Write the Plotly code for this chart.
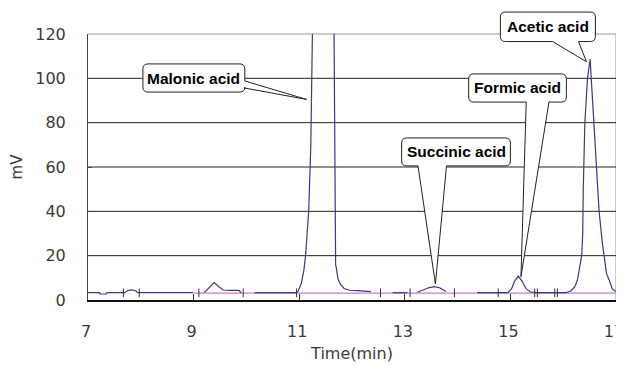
import plotly.graph_objects as go

# ---- data ----
signal_x = [7.00, 7.22, 7.23, 7.35, 7.36, 7.70, 7.75, 7.82, 7.89, 7.95, 8.99, None,
            9.20, 9.30, 9.39, 9.48, 9.56, 9.70, 9.86, 9.90, None,
            10.16, 10.95, 10.98, 11.04, 11.09, 11.12, 11.18, 11.22, 11.25, 11.27, 11.46,
            11.66, 11.67, 11.68, 11.69, 11.71, 11.73, 11.76, 11.79, 11.85, 11.95, 12.10, 12.36, None,
            12.77, 13.05, None,
            13.24, 13.35, 13.45, 13.56, 13.67, 13.78, None,
            14.37, 14.95, 15.02, 15.08, 15.15, 15.22, 15.30, 15.38, 15.50, 16.05,
            16.15, 16.22, 16.27, 16.31, 16.35, 16.37, 16.38, 16.41, 16.46, 16.51,
            16.53, 16.58, 16.63, 16.68, 16.74, 16.77, 16.82, 16.87, 16.93, 17.00]
signal_y = [3.3, 3.3, 2.7, 2.7, 3.3, 3.3, 4.3, 4.6, 4.3, 3.3, 3.3, None,
            3.3, 5.5, 7.9, 6.0, 4.5, 4.3, 4.3, 3.4, None,
            3.3, 3.3, 4.0, 7.5, 13.6, 20, 40, 70, 120, 150, 600,
            120, 60, 20, 16, 13.6, 10, 8, 6.8, 5.2, 4.4, 4.2, 3.8, None,
            3.3, 3.3, None,
            3.5, 4.6, 5.5, 6.0, 5.4, 3.8, None,
            3.3, 3.3, 5.0, 8.5, 10.8, 8.5, 5.0, 3.6, 3.3, 3.3,
            4.2, 6.0, 9.0, 14.0, 20, 30, 50, 80, 100, 108.6,
            100, 80, 60, 40, 26, 20, 12, 9, 5, 3.8]

baseline_x = [9.0, 17.0]
baseline_y = [3.1, 3.1]

marker_x = [7.67, 7.97, 9.10, 9.94, 10.95, 12.54, 13.10, 13.94,
            14.77, 15.46, 15.51, 15.84, 15.89]
marker_low, marker_high = 1.3, 5.2

x_ticks = [7, 9, 11, 13, 15, 17]
y_ticks = [0, 20, 40, 60, 80, 100, 120]
grid_y = [20, 40, 60, 80, 100]

labels = ["Malonic acid", "Acetic acid", "Formic acid", "Succinic acid"]
box_x0 = [8.04, 14.81, 14.21, 12.94]
box_x1 = [9.97, 16.61, 16.06, 15.00]
box_y0 = [93.8, 116.6, 89.3, 60.5]
box_y1 = [106.5, 129.9, 102.0, 73.1]
tip_x = [11.14, 16.44, 15.20, 13.58]
tip_y = [90.5, 107.5, 10.5, 7.2]
edge = ["right", "bottom", "bottom", "bottom"]
base_a = [98.8, 15.80, 15.30, 13.25]   # first wedge-base coordinate along edge
base_b = [95.6, 16.29, 15.73, 13.79]   # second wedge-base coordinate along edge

XR = (7, 17)
YR = (0, 120)
PW, PH = 528, 266


def px(x):
    return (x - XR[0]) / (XR[1] - XR[0])


def py(y):
    return (y - YR[0]) / (YR[1] - YR[0])


def callout_path(i):
    rx, ry = 5 / PW, 5 / PH
    x0, x1 = px(box_x0[i]), px(box_x1[i])
    yb, yt = py(box_y0[i]), py(box_y1[i])
    tx, ty = px(tip_x[i]), py(tip_y[i])
    p = [f"M {x0+rx},{yt}", f"L {x1-rx},{yt}", f"Q {x1},{yt} {x1},{yt-ry}"]
    if edge[i] == "right":
        p += [f"L {x1},{py(base_a[i])}", f"L {tx},{ty}", f"L {x1},{py(base_b[i])}"]
    p += [f"L {x1},{yb+ry}", f"Q {x1},{yb} {x1-rx},{yb}"]
    if edge[i] == "bottom":
        p += [f"L {px(base_b[i])},{yb}", f"L {tx},{ty}", f"L {px(base_a[i])},{yb}"]
    p += [f"L {x0+rx},{yb}", f"Q {x0},{yb} {x0},{yb+ry}",
          f"L {x0},{yt-ry}", f"Q {x0},{yt} {x0+rx},{yt}", "Z"]
    return " ".join(p)


fig = go.Figure()

fig.add_trace(go.Scatter(x=baseline_x, y=baseline_y, mode="lines",
                         line=dict(color="#c87cc8", width=1.2), hoverinfo="skip"))
fig.add_trace(go.Scatter(x=signal_x, y=signal_y, mode="lines", connectgaps=False,
                         line=dict(color="#3a3a85", width=1.2), hoverinfo="skip"))

mx, my = [], []
for v in marker_x:
    mx += [v, v, None]
    my += [marker_low, marker_high, None]
fig.add_trace(go.Scatter(x=mx, y=my, mode="lines", line=dict(color="#333333", width=1),
                         hoverinfo="skip"))

shapes = []
for g in grid_y:
    shapes.append(dict(type="line", xref="x", yref="y", x0=XR[0], x1=XR[1], y0=g, y1=g,
                       line=dict(color="#222222", width=1), layer="below"))
shapes.append(dict(type="line", xref="paper", yref="paper", x0=0, x1=1, y0=1, y1=1,
                   line=dict(color="#999999", width=1), layer="below"))
shapes.append(dict(type="line", xref="paper", yref="paper", x0=1, x1=1, y0=0, y1=1,
                   line=dict(color="#999999", width=1), layer="below"))
for i in range(len(labels)):
    shapes.append(dict(type="path", xref="paper", yref="paper", path=callout_path(i),
                       fillcolor="white", line=dict(color="#222222", width=1), layer="above"))

annotations = []
for i, t in enumerate(labels):
    annotations.append(dict(x=px((box_x0[i] + box_x1[i]) / 2), y=py((box_y0[i] + box_y1[i]) / 2),
                            xref="paper", yref="paper", text=t, showarrow=False,
                            font=dict(family="Liberation Sans", size=15.5, color="black",
                                      weight="bold"),
                            xanchor="center", yanchor="middle"))

fig.update_layout(
    width=624, height=355,
    margin=dict(l=80, r=16, t=26, b=63),
    paper_bgcolor="white", plot_bgcolor="white",
    showlegend=False,
    shapes=shapes, annotations=annotations,
    font=dict(family="DejaVu Sans", size=16, color="#3a3a3a"),
)
fig.update_xaxes(range=list(XR), tickvals=x_ticks, ticktext=[str(v) for v in x_ticks],
                 automargin=False, ticklabeloverflow="allow", ticklabelshift=-2,
                 showgrid=False, zeroline=False, showline=True, linecolor="#111111",
                 linewidth=1.5, ticks="inside", ticklen=6, tickcolor="#333333",
                 ticklabelstandoff=16,
                 title=dict(text="Time(min)", font=dict(size=16), standoff=9))
fig.update_yaxes(range=list(YR), tickvals=y_ticks, ticktext=[str(v) for v in y_ticks],
                 automargin=False, ticklabeloverflow="allow",
                 showgrid=False, zeroline=False, showline=True, linecolor="#444444",
                 linewidth=1, ticks="inside", ticklen=4, tickcolor="#444444",
                 ticklabelstandoff=18,
                 title=dict(text="mV", font=dict(size=15), standoff=14))

fig.write_html("out.html")
